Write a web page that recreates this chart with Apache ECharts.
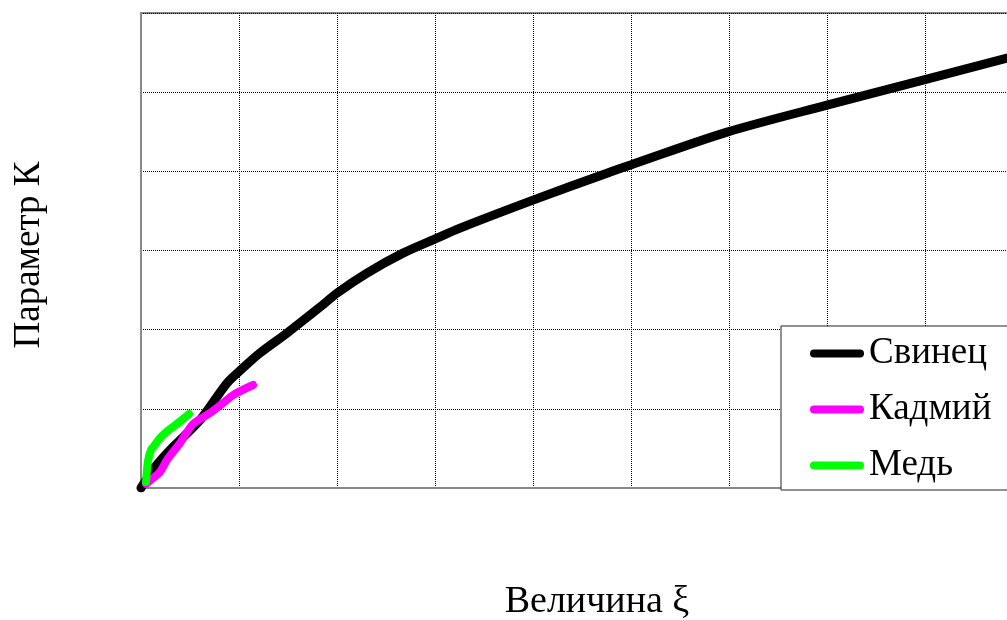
<!DOCTYPE html>
<html>
<head>
<meta charset="utf-8">
<script src="https://cdn.jsdelivr.net/npm/echarts@6/dist/echarts.min.js"></script>
<style>
html,body{margin:0;padding:0;background:#fff;}
#chart{width:1007px;height:620px;}
</style>
</head>
<body>
<div id="chart"></div>
<script>
// Data (x in grid units, y in grid units)
const seriesNames = ['Свинец', 'Кадмий', 'Медь'];
const leadX = [0, 0.143, 0.296, 0.602, 0.878, 1.030, 1.214, 1.490, 1.827, 2.0, 2.306, 2.673, 3.020, 3.255, 4.0, 4.755, 4.990, 5.980, 7.0, 7.980, 8.837, 9.0];
const leadY = [0, 0.265, 0.480, 0.859, 1.326, 1.505, 1.705, 1.957, 2.285, 2.462, 2.715, 2.967, 3.157, 3.283, 3.636, 3.977, 4.078, 4.495, 4.836, 5.152, 5.429, 5.47];
const cadmiumX = [0.051, 0.112, 0.194, 0.265, 0.398, 0.531, 0.704, 0.837, 0.939, 1.143];
const cadmiumY = [0.051, 0.114, 0.202, 0.354, 0.568, 0.808, 0.947, 1.073, 1.174, 1.301];
const copperX = [0.051, 0.061, 0.071, 0.102, 0.133, 0.204, 0.296, 0.378, 0.490];
const copperY = [0.076, 0.227, 0.341, 0.480, 0.530, 0.644, 0.745, 0.821, 0.934];
const xTitle = 'Величина ξ';
const yTitle = 'Параметр К';

function pairs(xs, ys) { return xs.map((x, i) => [x, ys[i]]); }

const chart = echarts.init(document.getElementById('chart'), null, {renderer: 'canvas'});
const serif = 'Liberation Serif, Times New Roman, serif';
const split = {show: true, lineStyle: {type: 'dotted', color: '#000', width: 1}};
const axisLine = {show: true, lineStyle: {color: '#888', width: 2}};
const legendIcon = 'path://M4,0 H50 A4,4 0 0 1 50,8 H4 A4,4 0 0 1 4,0 Z';

chart.setOption({
  animation: false,
  backgroundColor: '#fff',
  grid: {left: 141, top: 13, width: 882, height: 475, containLabel: false, outerBoundsMode: 'none',
         show: true, borderColor: '#888', borderWidth: 2, backgroundColor: 'transparent'},
  xAxis: {
    type: 'value', min: 0, max: 9, interval: 1,
    axisLabel: {show: false}, axisTick: {show: false}, axisLine: axisLine, splitLine: split
  },
  yAxis: {
    type: 'value', min: 0, max: 6, interval: 1,
    axisLabel: {show: false}, axisTick: {show: false}, axisLine: axisLine, splitLine: split
  },
  graphic: [
    {type: 'text', x: 597, y: 602,
     style: {text: xTitle, font: '38px ' + serif, fill: '#000', align: 'center', verticalAlign: 'middle'}},
    {type: 'text', x: 29, y: 255, rotation: Math.PI / 2,
     style: {text: yTitle, font: '37px ' + serif, fill: '#000', align: 'center', verticalAlign: 'middle'}}
  ],
  legend: {
    orient: 'vertical', left: 781, top: 326,
    backgroundColor: '#fff', borderColor: '#222', borderWidth: 1,
    padding: [9, 60, 6, 29], itemGap: 19,
    itemWidth: 54, itemHeight: 8, icon: legendIcon,
    textStyle: {fontFamily: serif, fontSize: 37, color: '#000'},
    data: seriesNames
  },
  series: [
    {name: seriesNames[0], type: 'line', data: pairs(leadX, leadY), showSymbol: false, smooth: 0.3,
     color: '#000', lineStyle: {color: '#000', width: 9, cap: 'round', join: 'round'}},
    {name: seriesNames[1], type: 'line', data: pairs(cadmiumX, cadmiumY), showSymbol: false, smooth: 0.3,
     color: '#ff00ff', lineStyle: {color: '#ff00ff', width: 8, cap: 'round', join: 'round'}},
    {name: seriesNames[2], type: 'line', data: pairs(copperX, copperY), showSymbol: false, smooth: 0.3,
     color: '#00ff00', lineStyle: {color: '#00ff00', width: 8, cap: 'round', join: 'round'}}
  ]
});
</script>
</body>
</html>
